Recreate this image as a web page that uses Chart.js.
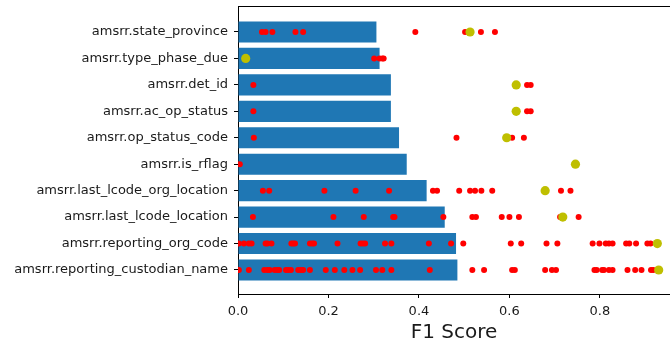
<!DOCTYPE html>
<html>
<head>
<meta charset="utf-8">
<script src="https://cdn.jsdelivr.net/npm/chart.js@4/dist/chart.umd.min.js"></script>
<style>
  html, body { margin: 0; padding: 0; background: #fff; overflow: hidden; }
  #wrap { width: 670px; height: 347px; }
</style>
</head>
<body>
<div id="wrap"><canvas id="chart" width="670" height="347"></canvas></div>
<script>
// Fields, listed top to bottom
const categories = [
  'amsrr.state_province',
  'amsrr.type_phase_due',
  'amsrr.det_id',
  'amsrr.ac_op_status',
  'amsrr.op_status_code',
  'amsrr.is_rflag',
  'amsrr.last_lcode_org_location',
  'amsrr.last_lcode_location',
  'amsrr.reporting_org_code',
  'amsrr.reporting_custodian_name'
];

// Mean F1 per field (bars)
const meanF1 = [0.306, 0.313, 0.338, 0.338, 0.356, 0.373, 0.417, 0.457, 0.482, 0.485];

// Reference F1 per field (large olive dots)
const baselineF1 = [0.513, 0.017, 0.615, 0.615, 0.594, 0.746, 0.679, 0.718, 0.927, 0.930];

// Individual F1 scores per field (red dots)
const runsStateProvince = [0.053, 0.061, 0.076, 0.127, 0.144, 0.392, 0.502, 0.537, 0.568];
const runsTypePhaseDue = [0.301, 0.313, 0.319, 0.322];
const runsDetId = [0.034, 0.639, 0.647];
const runsAcOpStatus = [0.034, 0.639, 0.647];
const runsOpStatusCode = [0.035, 0.483, 0.606, 0.632];
const runsIsRflag = [0.004];
const runsLastLcodeOrgLocation = [0.055, 0.069, 0.191, 0.260, 0.334, 0.431, 0.440, 0.489, 0.513,
  0.524, 0.538, 0.562, 0.714, 0.735];
const runsLastLcodeLocation = [0.033, 0.211, 0.278, 0.343, 0.346, 0.454, 0.518, 0.526, 0.583,
  0.600, 0.621, 0.712, 0.753];
const runsReportingOrgCode = [0.002, 0.013, 0.024, 0.030, 0.061, 0.065, 0.074, 0.118, 0.122,
  0.126, 0.159, 0.164, 0.168, 0.220, 0.271, 0.276, 0.281, 0.325, 0.339, 0.422, 0.471, 0.498,
  0.603, 0.626, 0.682, 0.706, 0.784, 0.799, 0.813, 0.820, 0.828, 0.858, 0.865, 0.880, 0.905, 0.912];
const runsReportingCustodianName = [0.002, 0.024, 0.058, 0.065, 0.070, 0.081, 0.087, 0.091,
  0.106, 0.111, 0.117, 0.133, 0.139, 0.144, 0.159, 0.194, 0.214, 0.235, 0.253, 0.270, 0.305,
  0.319, 0.339, 0.424, 0.518, 0.544, 0.606, 0.612, 0.679, 0.694, 0.703, 0.788, 0.793, 0.805,
  0.809, 0.820, 0.828, 0.861, 0.878, 0.892, 0.913, 0.918];

// X axis tick values
const xTicks = [0.0, 0.2, 0.4, 0.6, 0.8];

const runsByField = [
  runsStateProvince, runsTypePhaseDue, runsDetId, runsAcOpStatus, runsOpStatusCode,
  runsIsRflag, runsLastLcodeOrgLocation, runsLastLcodeLocation, runsReportingOrgCode,
  runsReportingCustodianName
];

const barPoints = meanF1.map((v, i) => ({ x: v, y: i }));
const basePoints = baselineF1.map((v, i) => ({ x: v, y: i }));
const runPoints = [];
runsByField.forEach((arr, i) => arr.forEach(v => runPoints.push({ x: v, y: i })));

const FONT = "'DejaVu Sans', sans-serif";
const TEXT = '#1a1a1a';

// Top spine of the axes frame
const topSpine = {
  id: 'topSpine',
  afterDraw(chart) {
    const { ctx, chartArea } = chart;
    ctx.save();
    ctx.strokeStyle = '#000';
    ctx.lineWidth = 1;
    ctx.beginPath();
    ctx.moveTo(chartArea.left, chartArea.top + 0.5);
    ctx.lineTo(chartArea.right, chartArea.top + 0.5);
    ctx.stroke();
    ctx.restore();
  }
};

new Chart(document.getElementById('chart'), {
  type: 'bar',
  data: {
    datasets: [
      {
        type: 'scatter',
        data: basePoints,
        backgroundColor: '#bfbf00',
        pointRadius: 4.6,
        pointHoverRadius: 4.6,
        borderWidth: 0,
        order: 0
      },
      {
        type: 'scatter',
        data: runPoints,
        backgroundColor: '#ff0000',
        pointRadius: 3,
        pointHoverRadius: 3,
        borderWidth: 0,
        order: 1
      },
      {
        type: 'bar',
        indexAxis: 'y',
        data: barPoints,
        backgroundColor: '#1f77b4',
        borderWidth: 0,
        barPercentage: 1,
        categoryPercentage: 0.8,
        order: 2
      }
    ]
  },
  options: {
    responsive: false,
    devicePixelRatio: 1,
    animation: false,
    events: [],
    layout: { autoPadding: false, padding: { top: 6, left: 0, right: 0, bottom: 0 } },
    plugins: { legend: { display: false }, tooltip: { enabled: false } },
    scales: {
      x: {
        type: 'linear',
        offset: false,
        bounds: 'data',
        min: 0,
        max: 0.955,
        afterBuildTicks: s => { s.ticks = xTicks.map(v => ({ value: v })); },
        afterFit: s => { s.height = 53; s.paddingLeft = 0; s.paddingRight = 0; },
        ticks: {
          callback: v => Number(v).toFixed(1),
          font: { family: FONT, size: 13 },
          color: TEXT,
          padding: 6,
          maxRotation: 0
        },
        grid: { offset: false, drawOnChartArea: false, tickLength: 4, tickColor: '#000' },
        border: { color: '#000', width: 1 },
        title: {
          display: true,
          text: 'F1 Score',
          font: { family: FONT, size: 20 },
          color: TEXT,
          padding: { top: 0, bottom: 2 }
        }
      },
      y: {
        type: 'linear',
        offset: false,
        bounds: 'data',
        reverse: true,
        min: -0.983,
        max: 9.908,
        afterBuildTicks: s => { s.ticks = categories.map((_, i) => ({ value: i })); },
        afterFit: s => { s.width = 238; s.paddingTop = 0; s.paddingBottom = 0; },
        ticks: {
          callback: v => categories[v],
          font: { family: FONT, size: 13 },
          color: TEXT,
          padding: 6,
          autoSkip: false
        },
        grid: { offset: false, drawOnChartArea: false, tickLength: 4, tickColor: '#000' },
        border: { color: '#000', width: 1 }
      }
    }
  },
  plugins: [topSpine]
});
</script>
</body>
</html>
